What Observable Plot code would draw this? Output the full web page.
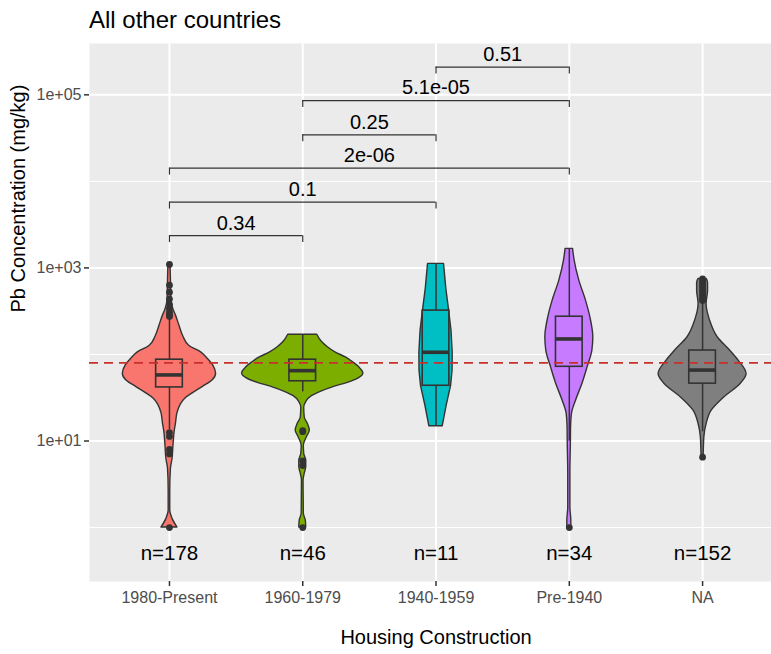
<!DOCTYPE html>
<html>
<head>
<meta charset="utf-8">
<script src="https://cdn.jsdelivr.net/npm/d3@7"></script>
<script src="https://cdn.jsdelivr.net/npm/@observablehq/plot@0.6"></script>
<style>
  body { margin: 0; background: #fff; font-family: "Liberation Sans", Arial, sans-serif; }
  #title { height: 36px; position: relative; }
  #title span { position: absolute; left: 89px; top: 6px; font-size: 24px; line-height: 28px; color: #000; }
</style>
</head>
<body>
<div id="title"><span>All other countries</span></div>
<div id="chart"></div>
<script>
// Housing construction periods, fills and sample sizes
const categories = ["1980-Present", "1960-1979", "1940-1959", "Pre-1940", "NA"];
const fills = ["#F8766D", "#7CAE00", "#00BFC4", "#C77CFF", "#7F7F7F"];
const counts = [178, 46, 11, 34, 152];

// Violin outlines: [Pb concentration (mg/kg), half-width in category units]
const violin1980 = [[1091,0.008],[713,0.011],[419,0.015],[330,0.030],[281,0.049],[215,0.075],[160,0.105],[125,0.150],[105,0.240],[90,0.285],[74,0.330],[60,0.350],[50,0.323],[42,0.248],[36,0.180],[31,0.120],[26,0.083],[21,0.060],[16,0.049],[12.5,0.038],[8.8,0.030],[6.2,0.023],[4.8,0.011],[2.7,0.006],[1.56,0.006],[1.26,0.023],[1.0,0.060]];
const violin1960 = [[169,0.109],[140,0.143],[121,0.188],[105,0.248],[92.5,0.323],[80,0.383],[71,0.424],[60.4,0.455],[53,0.420],[47,0.338],[41.7,0.225],[37,0.135],[33,0.068],[28,0.025],[24.4,0.011],[18.7,0.015],[15.8,0.038],[13.2,0.053],[11,0.030],[8.8,0.008],[7.1,0.011],[5.9,0.026],[5.0,0.026],[4.2,0.015],[3.5,0.006],[1.45,0.008],[1.2,0.023],[1.0,0.026]];
const violin1940 = [[1112,0.060],[577,0.077],[321,0.098],[189,0.116],[105,0.125],[65,0.124],[43.5,0.113],[25.6,0.080],[14.8,0.050]];
const violinPre1940 = [[1660,0.028],[1213,0.040],[713,0.075],[419,0.125],[268,0.158],[158,0.180],[111,0.173],[71,0.137],[45.6,0.098],[29.2,0.050],[20.7,0.020],[14.4,0.013],[10.1,0.012],[4.2,0.008],[1.7,0.008],[1.2,0.015],[1.0,0.015]];
const violinNA = [[746,0.030],[676,0.041],[546,0.041],[382,0.030],[246,0.056],[158,0.113],[111,0.206],[85,0.270],[59.6,0.330],[45.6,0.285],[31.9,0.163],[22.4,0.068],[15.7,0.030],[11,0.013],[6.5,0.008]];
const violins = [violin1980, violin1960, violin1940, violinPre1940, violinNA];

// Box plot statistics per period (mg/kg)
const q1 = [41.6, 49, 43.5, 72, 46];
const medians = [58, 65, 106, 151, 66];
const q3 = [87, 87, 321, 273, 111];
const whiskerLow = [13.5, 37, 14.8, 10, 12.8];
const whiskerHigh = [255, 169, 1112, 1660, 390];

// Outlying samples (mg/kg)
const outliers1980 = [1096, 631, 525, 437, 380, 339, 309, 288, 275, 12.5, 11.3, 8.0, 7.1, 1.0];
const outliers1960 = [13.2, 12.8, 5.9, 5.2, 1.0];
const outliers1940 = [];
const outliersPre1940 = [1.0];
const outliersNA = [746, 700, 660, 620, 580, 540, 500, 470, 440, 420, 6.5];
const outliers = [outliers1980, outliers1960, outliers1940, outliersPre1940, outliersNA];

// Pairwise comparisons (p-values) and bracket heights (mg/kg)
const group1 = ["1980-Present", "1980-Present", "1980-Present", "1960-1979", "1960-1979", "1940-1959"];
const group2 = ["1960-1979", "1940-1959", "Pre-1940", "1940-1959", "Pre-1940", "Pre-1940"];
const pLabels = ["0.34", "0.1", "2e-06", "0.25", "5.1e-05", "0.51"];
const bracketY = [2360, 5750, 14200, 34500, 85900, 209000];

// Reference level (mg/kg)
const threshold = 80;

// y tick values
const yTicks = [10, 1000, 100000];
const yMinor = [1, 100, 10000];

const pos = name => categories.indexOf(name) + 1;
const idx = d3.range(categories.length);

const violinRows = violins.flatMap((v, i) =>
  v.map(([value, hw]) => ({cat: i, value, x1: i + 1 - hw, x2: i + 1 + hw})).sort((a, b) => a.value - b.value)
);
// the small 1940-1959 sample gives an angular outline; the others are smooth
const smoothRows = violinRows.filter(d => d.cat !== 2);
const angularRows = violinRows.filter(d => d.cat === 2);
const outlierRows = outliers.flatMap((o, i) => o.map(value => ({x: i + 1, value})));
const brackets = group1.map((g, i) => ({a: pos(g), b: pos(group2[i]), y: bracketY[i], label: pLabels[i]}));

const ink = "#333333";
const font = "Liberation Sans, Arial, sans-serif";

const violinStyle = {y: "value", x1: "x1", x2: "x2", z: "cat", fill: d => fills[d.cat], stroke: ink, strokeWidth: 1.4};

const chart = Plot.plot({
  width: 771,
  height: 618,
  marginTop: 7,
  marginBottom: 73,
  marginLeft: 89,
  marginRight: 0,
  style: {fontFamily: font, background: "#fff", color: "#000"},
  x: {type: "linear", domain: [0.4, 5.517]},
  y: {type: "log", domain: [0.238, 391800]},
  marks: [
    Plot.frame({fill: "#EBEBEB", stroke: "none"}),
    Plot.ruleY(yMinor, {stroke: "#fff", strokeWidth: 1}),
    Plot.ruleY(yTicks, {stroke: "#fff", strokeWidth: 2}),
    Plot.ruleX(idx.map(i => i + 1), {stroke: "#fff", strokeWidth: 2}),

    // violins
    Plot.areaX(smoothRows, {...violinStyle, curve: "monotone-y"}),
    Plot.areaX(angularRows, {...violinStyle, curve: "linear"}),

    // box plots
    Plot.ruleX(idx, {x: i => i + 1, y1: i => q3[i], y2: i => whiskerHigh[i], stroke: ink, strokeWidth: 1.5}),
    Plot.ruleX(idx, {x: i => i + 1, y1: i => whiskerLow[i], y2: i => q1[i], stroke: ink, strokeWidth: 1.5}),
    Plot.rect(idx, {
      x1: i => i + 0.9, x2: i => i + 1.1, y1: i => q1[i], y2: i => q3[i],
      fill: i => fills[i], stroke: ink, strokeWidth: 1.6
    }),
    Plot.ruleY(idx, {y: i => medians[i], x1: i => i + 0.9, x2: i => i + 1.1, stroke: ink, strokeWidth: 3.6}),
    Plot.dot(outlierRows, {x: "x", y: "value", r: 3.4, fill: ink, stroke: "none"}),

    // reference level
    Plot.ruleY([threshold], {stroke: "#C9302C", strokeWidth: 1.6, strokeDasharray: "9,6"}),

    // comparison brackets
    Plot.ruleY(brackets, {x1: "a", x2: "b", y: "y", stroke: ink, strokeWidth: 1.2}),
    Plot.ruleX(brackets, {x: "a", y1: d => d.y, y2: d => d.y * 0.832, stroke: ink, strokeWidth: 1.2}),
    Plot.ruleX(brackets, {x: "b", y1: d => d.y, y2: d => d.y * 0.832, stroke: ink, strokeWidth: 1.2}),
    Plot.text(brackets, {
      x: d => (d.a + d.b) / 2, y: "y", text: "label",
      dy: -12.5, fontSize: 20, fill: "#000", lineAnchor: "middle"
    }),

    // sample sizes
    Plot.text(idx, {x: i => i + 1, y: () => 0.5, text: i => `n=${counts[i]}`, fontSize: 20.5, fill: "#000", lineAnchor: "middle"}),

    // axes
    Plot.axisY({
      ticks: yTicks,
      tickFormat: d => "1e+" + String(Math.round(Math.log10(d))).padStart(2, "0"),
      tickSize: 5, tickPadding: 3, fontSize: 16, fill: "#4D4D4D", stroke: ink, strokeWidth: 1.5,
      label: null
    }),
    Plot.axisX({
      ticks: idx.map(i => i + 1),
      tickFormat: d => categories[d - 1],
      tickSize: 5, tickPadding: 5, fontSize: 16, fill: "#4D4D4D", stroke: ink, strokeWidth: 1.5,
      label: null
    }),
    Plot.text(["Pb Concentration (mg/kg)"], {frameAnchor: "left", rotate: -90, dx: -71, fontSize: 20, fill: "#000"}),
    Plot.text(["Housing Construction"], {x: 3, frameAnchor: "bottom", dy: 56, fontSize: 20, fill: "#000", lineAnchor: "middle"})
  ]
});

document.getElementById("chart").appendChild(chart);
</script>
</body>
</html>
